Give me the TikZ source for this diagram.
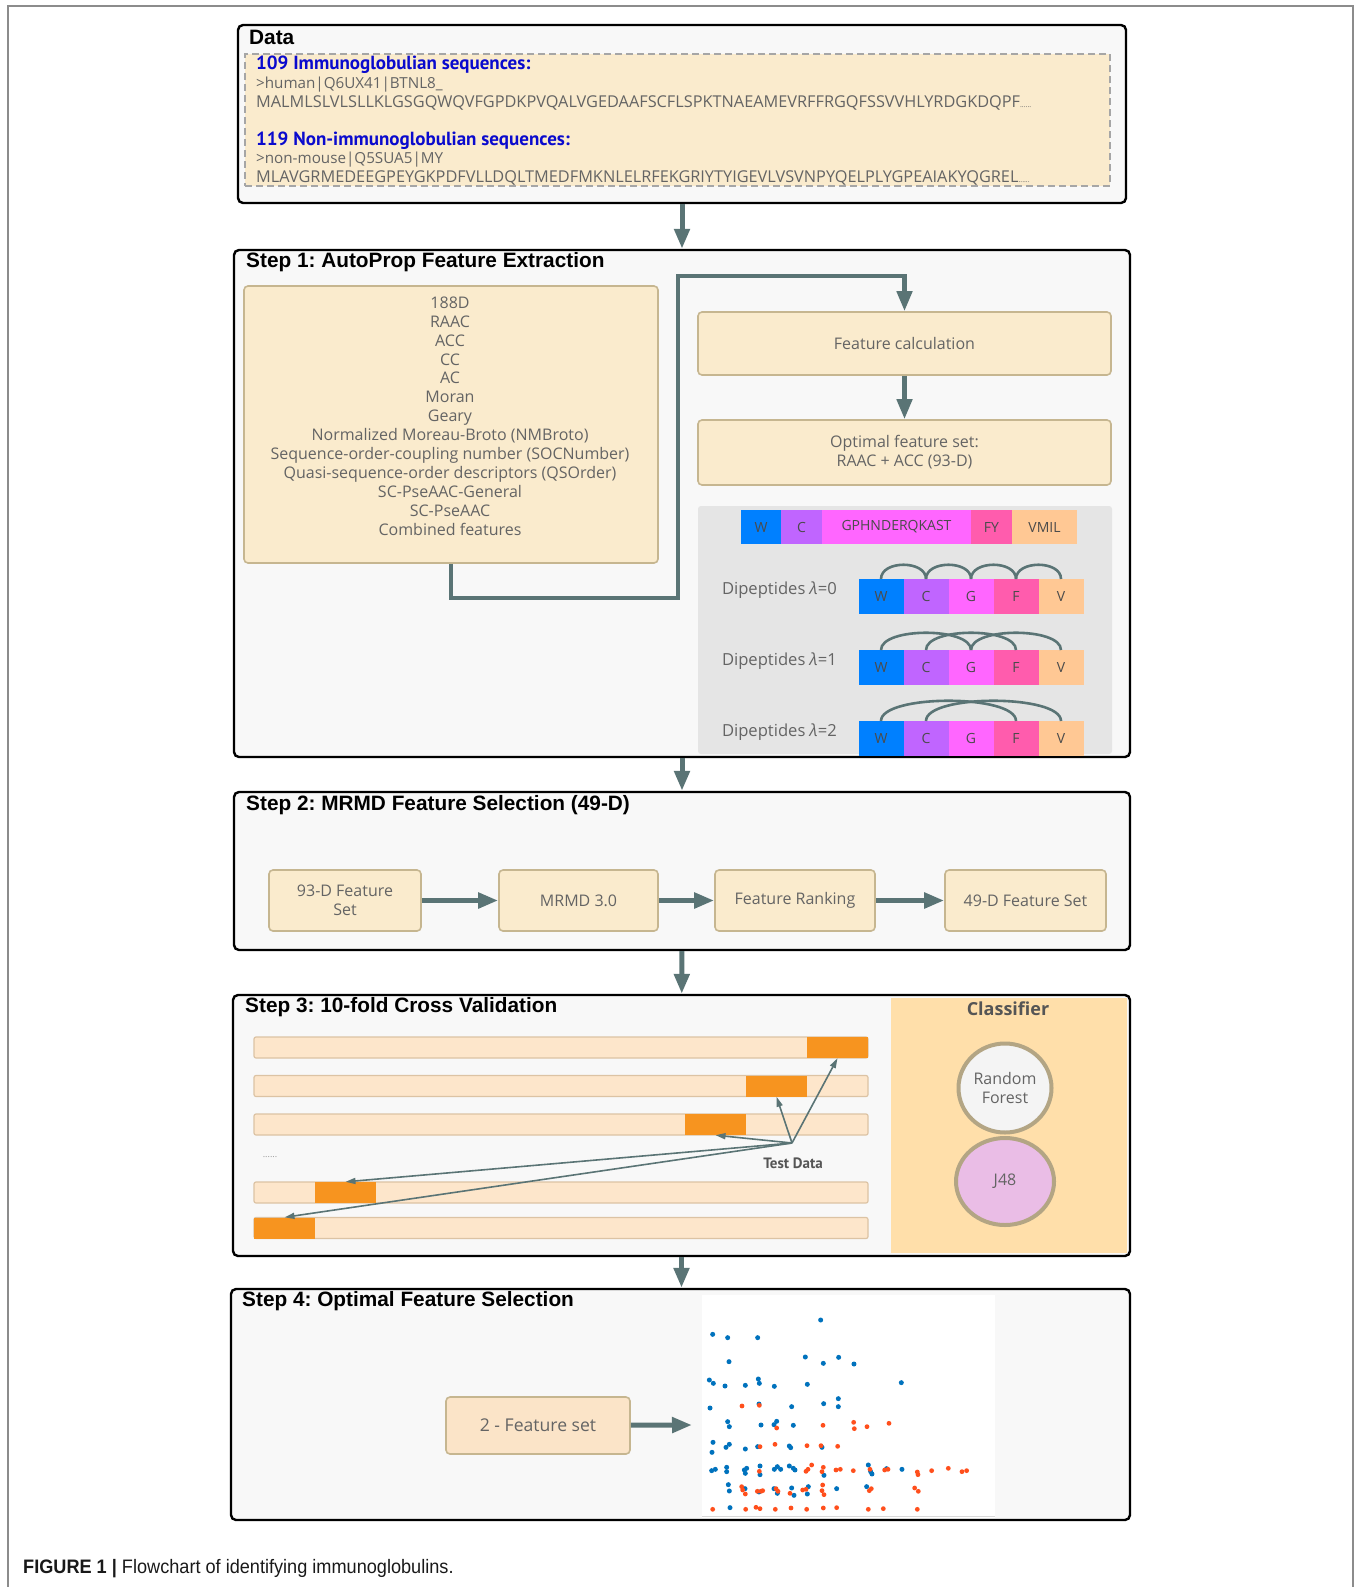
\documentclass[tikz,border=0pt]{standalone}
\usepackage{fontspec}
\setmainfont{Open Sans}
\newfontfamily\titlefont{Liberation Sans}
\newfontfamily\seqheadfont{PT Sans}
\newfontfamily\captionfont[FakeStretch=0.93]{Liberation Sans}
\usetikzlibrary{arrows.meta,shapes.geometric,positioning}
\frenchspacing

\definecolor{StepFill}{HTML}{F8F8F8}
\definecolor{BoxFill}{HTML}{FAEBCD}
\definecolor{BoxLine}{HTML}{C6B690}
\definecolor{Slate}{HTML}{5A7475}
\definecolor{TextGray}{HTML}{646464}
\definecolor{SeqBlue}{HTML}{0A0ACD}
\definecolor{PanelGray}{HTML}{E5E5E5}
\definecolor{ClassFill}{HTML}{FFDFAA}
\definecolor{BarFill}{HTML}{FDE6CB}
\definecolor{BarLine}{HTML}{DCC3A4}
\definecolor{FoldOrange}{HTML}{F7941F}
\definecolor{AaW}{HTML}{0080FF}
\definecolor{AaC}{HTML}{C065FF}
\definecolor{AaG}{HTML}{FF66FF}
\definecolor{AaF}{HTML}{FF5CAD}
\definecolor{AaV}{HTML}{FFC894}
\definecolor{RFFill}{HTML}{F4F4F4}
\definecolor{RFLine}{HTML}{B3A584}
\definecolor{JFill}{HTML}{EABDE6}
\definecolor{SetFill}{HTML}{FBE4C8}
\definecolor{DotBlue}{HTML}{0072BD}
\definecolor{DotRed}{HTML}{FF4F1C}

\begin{document}
\begin{tikzpicture}[x=1pt,y=-1pt]
    \useasboundingbox (0,0) rectangle (1356,1587);
    \draw[black!45,line width=1.2pt] (8,1587) -- (8,6) -- (1353,6) -- (1353,1587);

    \tikzset{StepStyle/.style={draw=black,line width=2.4pt,fill=StepFill,rounded corners=5pt,inner sep=0pt}}
    \tikzset{TitleStyle/.style={anchor=west,inner sep=0pt,font=\titlefont\bfseries\fontsize{20.8}{24}\selectfont}}
    \tikzset{TextStyle/.style={inner sep=0pt,text=TextGray,font=\fontsize{16}{18.9}\selectfont}}
    \tikzset{BoxStyle/.style={TextStyle,draw=BoxLine,line width=1.6pt,fill=BoxFill,rounded corners=4pt,align=center}}
    \tikzset{EdgeStyle/.style={draw=Slate,line width=5pt,-{Triangle[length=20pt,width=15pt]}}}
    \tikzset{ThinEdgeStyle/.style={draw=Slate,line width=1.6pt,-{Triangle[length=10pt,width=6pt]}}}
    \tikzset{ArcStyle/.style={draw=Slate,line width=2.6pt}}
    \tikzset{AaStyle/.style={inner sep=0pt,outer sep=0pt,minimum height=34pt,text=TextGray!75!black,font=\fontsize{14}{16}\selectfont}}

    \node[StepStyle,minimum width=888pt,minimum height=178pt] (data) at (682,114) {};
    \node[StepStyle,minimum width=896pt,minimum height=507pt] (step1) at (682,503.5) {};
    \node[StepStyle,minimum width=896pt,minimum height=158pt] (step2) at (682,871) {};
    \node[StepStyle,minimum width=897pt,minimum height=261pt] (step3) at (681.5,1125.5) {};
    \node[StepStyle,minimum width=899pt,minimum height=231pt] (step4) at (680.5,1404.5) {};

    \node[TitleStyle] (t0) at (249,37.5) {Data};
    \node[TitleStyle] (t1) at (246,262) {Step 1: AutoProp Feature Extraction};
    \node[TitleStyle] (t2) at (246,805.5) {Step 2: MRMD Feature Selection (49-D)};
    \node[TitleStyle] (t3) at (245,1007) {Step 3: 10-fold Cross Validation};
    \node[TitleStyle] (t4) at (242,1301.5) {Step 4: Optimal Feature Selection};

    \draw[EdgeStyle] (data) -- (step1);
    \draw[EdgeStyle] (step1) -- (step2);
    \draw[EdgeStyle] (step2) -- (step3);
    \draw[EdgeStyle] (step3.south) -- (step3.south |- step4.north);

    \node[draw=black!35,dash pattern=on 7pt off 4pt,line width=2pt,fill=BoxFill,minimum width=865pt,minimum height=132pt] (seqbox) at (677.5,120) {};
    \node[TextStyle,anchor=north west,align=left,font=\fontsize{15.2}{18.83}\selectfont] (seqtxt) at (256,56)
        {{\seqheadfont\bfseries\fontsize{19}{18.83}\selectfont\color{SeqBlue}109 Immunoglobulian sequences:}\\
         >human|Q6UX41|BTNL8\_\\
         {\fontsize{16.3}{18.83}\selectfont MALMLSLVLSLLKLGSGQWQVFGPDKPVQALVGEDAAFSCFLSPKTNAEAMEVRFFRGQFSSVVHLYRDGKDQPF}{\scriptsize......}\\[18.83pt]
         {\seqheadfont\bfseries\fontsize{19}{18.83}\selectfont\color{SeqBlue}119 Non-immunoglobulian sequences:}\\
         >non-mouse|Q5SUA5|MY\\
         {\fontsize{16.3}{18.83}\selectfont MLAVGRMEDEEGPEYGKPDFVLLDQLTMEDFMKNLELRFEKGRIYTYIGEVLVSVNPYQELPLYGPEAIAKYQGREL}{\scriptsize......}};

    \node[BoxStyle,minimum width=414pt,minimum height=277pt] (featbox) at (451,424.5) {};
    \node[TextStyle,align=center] (featlist) at (450,416)
        {188D\\RAAC\\ACC\\CC\\AC\\Moran\\Geary\\Normalized Moreau-Broto (NMBroto)\\Sequence-order-coupling number (SOCNumber)\\Quasi-sequence-order descriptors (QSOrder)\\SC-PseAAC-General\\SC-PseAAC\\Combined features};
    \node[BoxStyle,minimum width=413pt,minimum height=63pt] (calc) at (904.5,343.5) {Feature calculation};
    \node[BoxStyle,minimum width=413pt,minimum height=65pt] (opt) at (904.5,452.5) {Optimal feature set:\\RAAC + ACC (93-D)};
    \coordinate (bend1) at (678,598);
    \coordinate (bend2) at (678,276);
    \draw[EdgeStyle,line width=4.5pt] (featbox.south) |- (bend1) -- (bend2) -| (calc.north);
    \draw[EdgeStyle,line width=4.5pt] (calc) -- (opt);

    \node[fill=PanelGray,rounded corners=3pt,minimum width=414pt,minimum height=248pt,inner sep=0pt] (aapanel) at (905,630) {};
    \node[AaStyle,fill=AaW,minimum width=40pt] (barW) at (761,527) {W};
    \node[AaStyle,fill=AaC,minimum width=41pt,right=0pt of barW] (barC) {C};
    \node[AaStyle,fill=AaG,minimum width=149pt,right=0pt of barC] (barG) {GPHNDERQKAST};
    \node[AaStyle,fill=AaF,minimum width=41pt,right=0pt of barG] (barF) {FY};
    \node[AaStyle,fill=AaV,minimum width=65pt,right=0pt of barF] (barV) {VMIL};

    \foreach \r/\yy in {0/596.5,1/667.5,2/738.5}{
        \node[TextStyle,anchor=east,font=\fontsize{16.6}{18.9}\selectfont] (dip\r) at (837,\yy-6) {Dipeptides {\itshape λ}=\r};
        \node[AaStyle,fill=AaW,minimum width=45pt,minimum height=35pt] (w\r) at (881,\yy) {W};
        \node[AaStyle,fill=AaC,minimum width=45pt,minimum height=35pt,right=0pt of w\r] (c\r) {C};
        \node[AaStyle,fill=AaG,minimum width=45pt,minimum height=35pt,right=0pt of c\r] (g\r) {G};
        \node[AaStyle,fill=AaF,minimum width=45pt,minimum height=35pt,right=0pt of g\r] (f\r) {F};
        \node[AaStyle,fill=AaV,minimum width=45pt,minimum height=35pt,right=0pt of f\r] (v\r) {V};
    }
    \foreach \a/\b in {w0/c0,c0/g0,g0/f0,f0/v0}
        \draw[ArcStyle] (\a.north) .. controls +(0,-19) and +(0,-19) .. (\b.north);
    \foreach \a/\b in {w1/g1,c1/f1,g1/v1}
        \draw[ArcStyle] (\a.north) .. controls +(0,-23) and +(0,-23) .. (\b.north);
    \foreach \a/\b in {w2/f2,c2/v2}
        \draw[ArcStyle] (\a.north) .. controls +(0,-27) and +(0,-27) .. (\b.north);

    \node[BoxStyle,minimum width=152pt,minimum height=61pt] (fs93) at (345,900.5) {93-D Feature\\Set};
    \node[BoxStyle,minimum width=159pt,minimum height=61pt] (mrmd) at (578.5,900.5) {MRMD 3.0};
    \node[BoxStyle,minimum width=160pt,minimum height=61pt] (rank) at (795,900.5) {Feature Ranking};
    \node[BoxStyle,minimum width=161pt,minimum height=61pt] (fs49) at (1025.5,900.5) {49-D Feature Set};
    \draw[EdgeStyle] (fs93) -- (mrmd);
    \draw[EdgeStyle] (mrmd) -- (rank);
    \draw[EdgeStyle] (rank) -- (fs49);

    \node[fill=ClassFill,minimum width=236pt,minimum height=255pt,inner sep=0pt] (clspanel) at (1009,1125.5) {};
    \node[TextStyle,font=\bfseries\fontsize{18}{20}\selectfont,text=TextGray!85!black] (clstitle) at (1008,1009) {Classifier};
    \node[TextStyle,ellipse,draw=RFLine,line width=4pt,fill=RFFill,minimum width=93pt,minimum height=89pt,align=center] (rf) at (1005,1088) {Random\\Forest};
    \node[TextStyle,ellipse,draw=RFLine,line width=4pt,fill=JFill,minimum width=98pt,minimum height=87pt] (j48) at (1005,1181.5) {J48};

    \foreach \i/\yy/\xx in {1/1047.5/837.5,2/1086/776.5,3/1124.5/715.5,4/1192.5/345.5,5/1228/284.5}{
        \node[draw=BarLine,line width=1.2pt,fill=BarFill,rounded corners=2pt,minimum width=614pt,minimum height=21pt,inner sep=0pt] (bar\i) at (561,\yy) {};
        \node[fill=FoldOrange,minimum width=61pt,minimum height=21pt,inner sep=0pt] (fold\i) at (\xx,\yy) {};
    }
    \node[TextStyle,font=\fontsize{9}{9}\selectfont,text=black!40] (dots) at (270,1157) {......};
    \coordinate (tdo) at (792,1143);
    \node[TextStyle,font=\seqheadfont\bfseries\fontsize{15}{16}\selectfont,text=TextGray!85!black] (tdl) at (793,1163) {Test Data};
    \foreach \i/\a in {1/south,2/south,3/south,4/north,5/north}
        \draw[ThinEdgeStyle] (tdo) -- (fold\i.\a);

    \node[BoxStyle,fill=SetFill,font=\fontsize{17.6}{19}\selectfont,minimum width=184pt,minimum height=57pt] (fs2) at (538,1425.5) {2 - Feature set};
    \coordinate (plotin) at (692,1425);
    \draw[EdgeStyle] (fs2) -- (plotin);
    \fill[white] (702,1295) rectangle (995,1518);
    \draw[black!15,line width=1pt] (702,1516) -- (995,1516);
    \begin{scope}[shift={(680,1280)},x=0.3333pt,y=-0.3333pt]
        \clip (66,45) rectangle (945,708);
        \foreach \px/\py in {422/120,98/163,143/173,233/173,147/245,376/231,430/250,476/232,522/252,
            88/300,100/310,135/318,196/316,235/297,238/310,283/319,382/313,664/308,
            90/384,237/372,335/380,431/371,475/356,475/380,
            143/425,148/440,243/435,282/434,290/424,340/436,
            99/487,96/517,138/502,148/493,196/507,233/500,328/498,332/503,426/502,
            95/572,106/568,140/562,140/575,193/570,200/565,196/580,240/558,240/584,283/568,292/560,302/568,
            328/558,340/565,345/570,432/586,565/555,572/575,576/582,620/566,666/568,
            145/614,148/633,195/626,237/636,282/626,292/640,335/624,342/646,385/620,382/642,470/626,560/620,
            150/683}
            \fill[DotBlue] (\px,\py) circle (2.5pt);
        \foreach \px/\py in {186/378,238/376,290/444,429/436,521/427,523/446,561/440,627/430,
            240/500,285/493,381/497,423/497,473/499,
            238/574,378/574,384/568,395/555,430/562,426/575,468/570,481/568,520/572,570/568,614/570,624/568,
            712/576,714/584,755/572,805/565,846/575,860/572,
            185/620,188/630,196/642,232/634,243/634,248/632,288/626,294/634,330/640,368/630,378/628,
            428/615,426/632,432/644,568/632,574/626,704/624,715/634,
            98/688,197/688,228/682,240/686,286/688,333/684,380/688,430/684,470/683,565/688,610/686,712/688}
            \fill[DotRed] (\px,\py) circle (2.4pt);
    \end{scope}

    \node[anchor=west,inner sep=0pt,text=black!90,font=\captionfont\fontsize{19.5}{22}\selectfont] (caption) at (23,1569)
        {\textbf{FIGURE 1 |} Flowchart of identifying immunoglobulins.};
\end{tikzpicture}
\end{document}
